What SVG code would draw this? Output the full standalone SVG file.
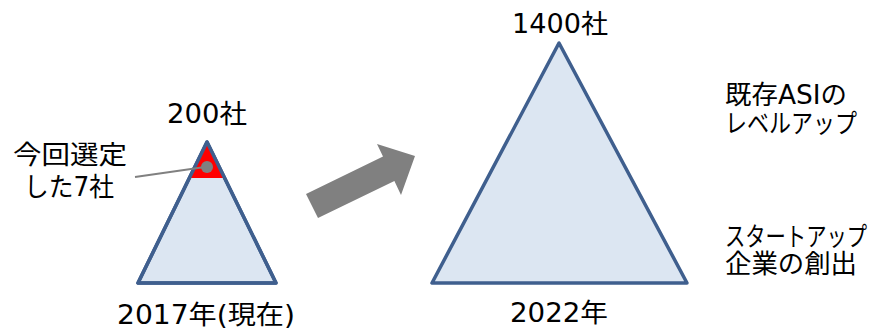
<svg xmlns="http://www.w3.org/2000/svg" width="874" height="331" viewBox="0 0 874 331">
<style>
.t{font-family:'DejaVu Sans','Noto Sans CJK JP',sans-serif;font-size:26px;fill:#000}
.tri{fill:#dce6f2;stroke:#3f5f8e;stroke-width:3.5;stroke-linejoin:round}
</style>
<rect width="874" height="331" fill="#fff"/>
<g id="tri2017">
<polygon class="tri" points="207,142 138,283 276,283"/>
<polygon points="207,144 189.5,178 224.5,178" fill="#ff0000"/>
<polygon points="207,142 138,283 276,283" fill="none" stroke="#3f5f8e" stroke-width="3.5" stroke-linejoin="round"/>
</g>
<g id="tri2022">
<polygon class="tri" points="559,43 432,283 687,283"/>
</g>
<g id="connectors">
<line x1="135" y1="177" x2="205" y2="167" stroke="#808080" stroke-width="2"/>
<circle cx="207" cy="167" r="6" fill="#808080"/>
<polygon id="arrow" points="306,194 383,156.6 377,144 415,156 401,195 394.4,180.9 318,218" fill="#808080"/>
</g>
<g id="labels">
<text class="t" x="167" y="123" textLength="80" lengthAdjust="spacingAndGlyphs">200社</text>
<text class="t" x="512" y="33" textLength="96" lengthAdjust="spacingAndGlyphs">1400社</text>
<text class="t" x="117" y="324" textLength="178" lengthAdjust="spacingAndGlyphs">2017年(現在)</text>
<text class="t" x="510" y="322" textLength="98" lengthAdjust="spacingAndGlyphs">2022年</text>
<text class="t" x="13" y="164" textLength="114" lengthAdjust="spacingAndGlyphs">今回選定</text>
<text class="t" x="24" y="196" textLength="90" lengthAdjust="spacingAndGlyphs">した7社</text>
<text class="t" x="725" y="104" textLength="122" lengthAdjust="spacingAndGlyphs">既存ASIの</text>
<text class="t" x="725" y="133" textLength="132" lengthAdjust="spacingAndGlyphs">レベルアップ</text>
<text class="t" x="725" y="246" textLength="142" lengthAdjust="spacingAndGlyphs">スタートアップ</text>
<text class="t" x="725" y="273" textLength="132" lengthAdjust="spacingAndGlyphs">企業の創出</text>
</g>
</svg>
